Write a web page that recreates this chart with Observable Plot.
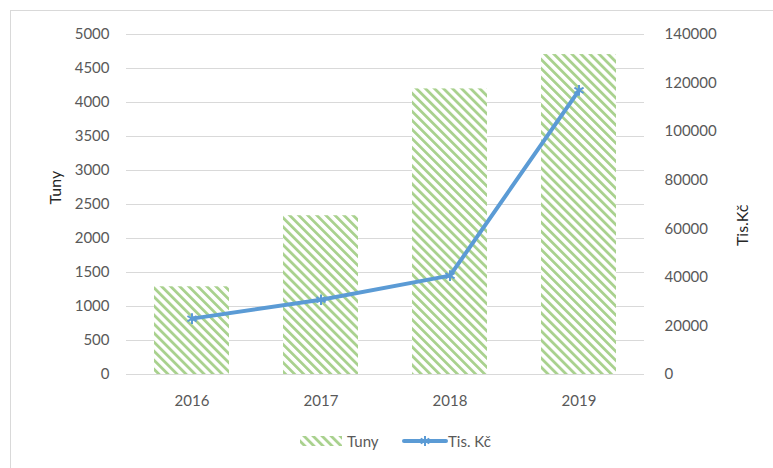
<!DOCTYPE html>
<html>
<head>
<meta charset="utf-8">
<script src="https://cdn.jsdelivr.net/npm/d3@7"></script>
<script src="https://cdn.jsdelivr.net/npm/@observablehq/plot@0.6"></script>
<style>
  html, body { margin: 0; padding: 0; background: #fff; }
  #wrap { position: relative; width: 773px; height: 468px; overflow: hidden; font-family: Lato, "Open Sans", sans-serif; }
  #border { position: absolute; left: 10px; top: 10px; width: 800px; height: 500px; border: 1px solid #d9d9d9; box-sizing: border-box; }
  #chart { position: absolute; left: 0; top: 0; }
  #legend { position: absolute; left: 0; top: 430px; width: 773px; height: 22px; font-size: 15px; color: #595959; }
  #legend .item { position: absolute; top: 0; display: flex; align-items: center; height: 22px; }
</style>
</head>
<body>
<div id="wrap">
  <div id="border"></div>
  <div id="chart"></div>
  <div id="legend"></div>
</div>
<script>
const years = ["2016", "2017", "2018", "2019"];
const tuny = [1290, 2335, 4200, 4705];
const tisKc = [23000, 30800, 40700, 117000];
const leftTicks = [0, 500, 1000, 1500, 2000, 2500, 3000, 3500, 4000, 4500, 5000];
const rightTicks = [0, 20000, 40000, 60000, 80000, 100000, 120000, 140000];
const seriesNames = ["Tuny", "Tis. Kč"];
const axisNames = ["Tuny", "Tis.Kč"];

const green = "#a9d18e";
const blue = "#5b9bd5";
const textGray = "#595959";
const gridGray = "#d9d9d9";

const k = 5000 / 140000; // right-axis value -> left-axis units

const barData = years.map((y, i) => ({year: y, value: tuny[i]}));
const lineData = years.map((y, i) => ({year: y, value: tisKc[i], scaled: tisKc[i] * k}));

const defs = () => {
  const g = d3.create("svg:defs");
  const p = g.append("pattern")
    .attr("id", "hatch")
    .attr("patternUnits", "userSpaceOnUse")
    .attr("width", 6.4).attr("height", 6.4)
    .attr("patternTransform", "rotate(-45)");
  p.append("rect").attr("width", 6.4).attr("height", 6.4).attr("fill", "#fff");
  p.append("rect").attr("x", 0).attr("width", 2.8).attr("height", 6.4).attr("fill", green);
  return g.node();
};

const chart = Plot.plot({
  width: 773,
  height: 468,
  marginLeft: 126,
  marginRight: 129,
  marginTop: 34,
  marginBottom: 94,
  style: {fontFamily: "Lato, 'Open Sans', sans-serif", fontSize: "15px", color: textGray, background: "transparent"},
  x: {domain: years, paddingInner: 0.42, paddingOuter: 0.21, align: 0.5},
  y: {domain: [0, 5000]},
  marks: [
    defs,
    Plot.gridY(leftTicks, {stroke: gridGray, strokeOpacity: 1, strokeWidth: 1}),
    Plot.barY(barData, {x: "year", y: "value", fill: "url(#hatch)"}),
    Plot.line(lineData, {x: "year", y: "scaled", stroke: blue, strokeWidth: 4, strokeLinecap: "round", strokeLinejoin: "round"}),
    Plot.dot(lineData, {x: "year", y: "scaled", symbol: "asterisk", r: 5, stroke: blue, strokeWidth: 2}),
    Plot.axisY({ticks: leftTicks, tickFormat: d => String(d), tickSize: 0, tickPadding: 17, anchor: "left", label: null, fill: textGray}),
    Plot.axisY({ticks: rightTicks.map(t => t * k), tickFormat: d => String(Math.round(d / k)), tickSize: 0, tickPadding: 20, anchor: "right", label: null, fill: textGray}),
    Plot.axisX({tickSize: 0, tickPadding: 21, label: null, fill: textGray}),
    Plot.text([axisNames[0]], {frameAnchor: "left", dx: -71, rotate: -90, fill: "#262626", fontSize: 16, text: d => d}),
    Plot.text([axisNames[1]], {frameAnchor: "right", dx: 98, rotate: -90, fill: "#262626", fontSize: 16, text: d => d})
  ]
});
document.getElementById("chart").appendChild(chart);

// Legend
const legend = document.getElementById("legend");
const item1 = document.createElement("div");
item1.className = "item";
item1.style.left = "300px";
item1.innerHTML = `<svg width="42" height="14" style="margin-right:5px"><defs><pattern id="hatchL" patternUnits="userSpaceOnUse" width="6.4" height="6.4" patternTransform="rotate(-45)"><rect width="6.4" height="6.4" fill="#fff"/><rect width="2.8" height="6.4" fill="${green}"/></pattern></defs><rect x="0" y="2" width="42" height="10" fill="url(#hatchL)"/></svg><span>${seriesNames[0]}</span>`;
legend.appendChild(item1);
const item2 = document.createElement("div");
item2.className = "item";
item2.style.left = "402px";
item2.innerHTML = `<svg width="46" height="14"><line x1="2" y1="7" x2="44" y2="7" stroke="${blue}" stroke-width="4" stroke-linecap="round"/><g stroke="${blue}" stroke-width="2"><line x1="23" y1="2" x2="23" y2="12"/><line x1="18.7" y1="4.5" x2="27.3" y2="9.5"/><line x1="18.7" y1="9.5" x2="27.3" y2="4.5"/></g></svg><span>${seriesNames[1]}</span>`;
legend.appendChild(item2);
</script>
</body>
</html>
